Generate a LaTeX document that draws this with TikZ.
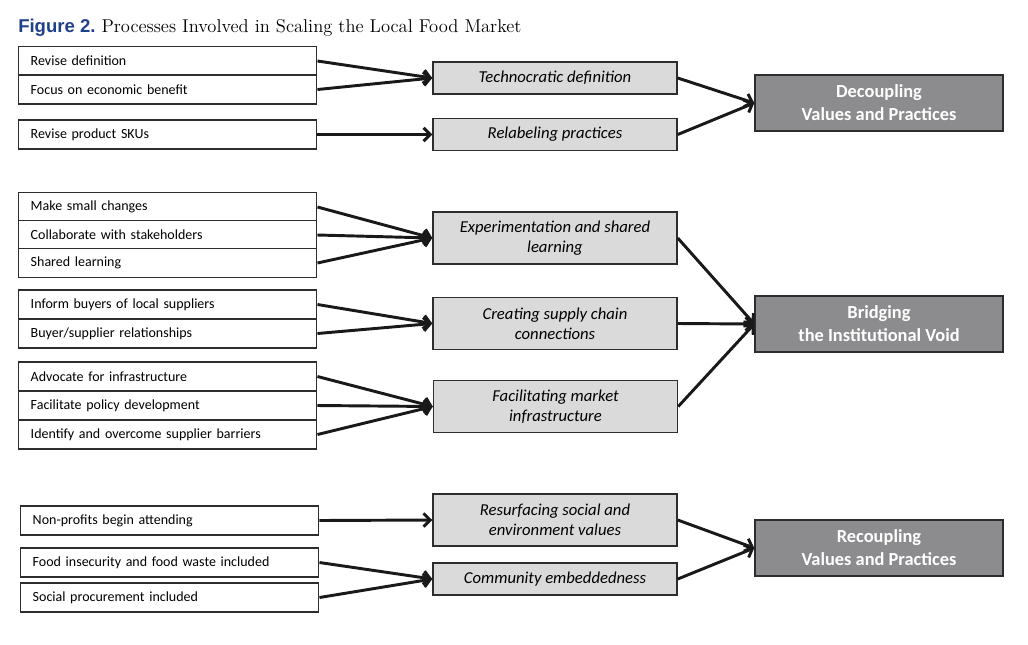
\documentclass[tikz,border=0pt]{standalone}
\usepackage{fontspec}
\newfontfamily\boxfont{Carlito}
\newfontfamily\figfont{Liberation Sans}
\usetikzlibrary{arrows.meta}
\definecolor{figblue}{RGB}{32,64,140}
\definecolor{boxgray}{RGB}{218,218,218}
\definecolor{outgray}{RGB}{140,140,142}
\definecolor{edgegray}{RGB}{45,45,45}

\begin{document}
\begin{tikzpicture}[x=0.75pt,y=0.75pt,yscale=-1,xscale=1,
    leftbox/.style={draw=edgegray, line width=1.1pt, fill=white, anchor=west, minimum width=223.5pt, minimum height=21.75pt, text width=205.5pt, inner xsep=9pt, inner ysep=0pt, align=left, font=\boxfont\fontsize{10.5}{12}\selectfont},
    midbox/.style={draw=edgegray, line width=1.1pt, fill=boxgray, minimum width=183pt, inner ysep=0pt, align=center, font=\boxfont\itshape\fontsize{12.5}{15}\selectfont},
    outbox/.style={draw=edgegray, line width=1.1pt, fill=outgray, text=white, minimum width=186pt, minimum height=42pt, inner ysep=0pt, align=center, font=\boxfont\bfseries\fontsize{13.8}{17.25}\selectfont},
    link/.style={draw=black!90, line width=2.2pt, -{Straight Barb[length=5pt,width=10pt]}}
]
\useasboundingbox (0,0) rectangle (1028,644);

% Title
\node[anchor=base west, inner sep=0pt, font=\fontsize{13.9}{16}\selectfont] (title) at (18,32) {{\figfont\bfseries\color{figblue}Figure 2.}\ Processes Involved in Scaling the Local Food Market};

% Decoupling
\node[leftbox] (revdef) at (18,61) {Revise definition};
\node[leftbox] (econ) at (18,89.5) {Focus on economic benefit};
\node[leftbox] (skus) at (18,134.5) {Revise product SKUs};
\node[midbox, minimum height=24pt] (techno) at (555,78) {Technocratic definition};
\node[midbox, minimum height=24pt] (relabel) at (555,134.5) {Relabeling practices};
\node[outbox] (decoup) at (879,103) {Decoupling\\Values and Practices};

\draw[link] (revdef.east) -- (techno.west);
\draw[link] (econ.east) -- (techno.west);
\draw[link] (skus.east) -- (relabel.west);
\draw[link] (techno.east) -- (decoup.west);
\draw[link] (relabel.east) -- (decoup.west);

% Bridging
\node[leftbox] (small) at (18,207) {Make small changes};
\node[leftbox] (collab) at (18,235) {Collaborate with stakeholders};
\node[leftbox] (shared) at (18,263) {Shared learning};
\node[leftbox] (inform) at (18,304.5) {Inform buyers of local suppliers};
\node[leftbox] (buyer) at (18,333.5) {Buyer/supplier relationships};
\node[leftbox] (advocate) at (18,376.5) {Advocate for infrastructure};
\node[leftbox] (policy) at (18,405.5) {Facilitate policy development};
\node[leftbox] (barriers) at (18,434.5) {Identify and overcome supplier barriers};
\node[midbox, minimum height=39pt] (experim) at (555,238) {Experimentation and shared\\learning};
\node[midbox, minimum height=39pt] (supply) at (555,323.5) {Creating supply chain\\connections};
\node[midbox, minimum height=39pt] (market) at (555.5,406.5) {Facilitating market\\infrastructure};
\node[outbox] (bridge) at (879,324) {Bridging\\the Institutional Void};

\draw[link] (small.east) -- (experim.west);
\draw[link] (collab.east) -- (experim.west);
\draw[link] (shared.east) -- (experim.west);
\draw[link] (inform.east) -- (supply.west);
\draw[link] (buyer.east) -- (supply.west);
\draw[link] (advocate.east) -- (market.west);
\draw[link] (policy.east) -- (market.west);
\draw[link] (barriers.east) -- (market.west);
\draw[link] (experim.east) -- (bridge.west);
\draw[link] (supply.east) -- (bridge.west);
\draw[link] (market.east) -- (bridge.west);

% Recoupling
\node[leftbox] (nonprofit) at (20,520.5) {Non-profits begin attending};
\node[leftbox] (foodins) at (20,562.5) {Food insecurity and food waste included};
\node[leftbox] (procure) at (20,597.5) {Social procurement included};
\node[midbox, minimum height=39pt] (resurf) at (555,520) {Resurfacing social and\\environment values};
\node[midbox, minimum height=24pt] (embed) at (555,579) {Community embeddedness};
\node[outbox] (recoup) at (879,548) {Recoupling\\Values and Practices};

\draw[link] (nonprofit.east) -- (resurf.west);
\draw[link] (foodins.east) -- (embed.west);
\draw[link] (procure.east) -- (embed.west);
\draw[link] (resurf.east) -- (recoup.west);
\draw[link] (embed.east) -- (recoup.west);

\end{tikzpicture}
\end{document}
